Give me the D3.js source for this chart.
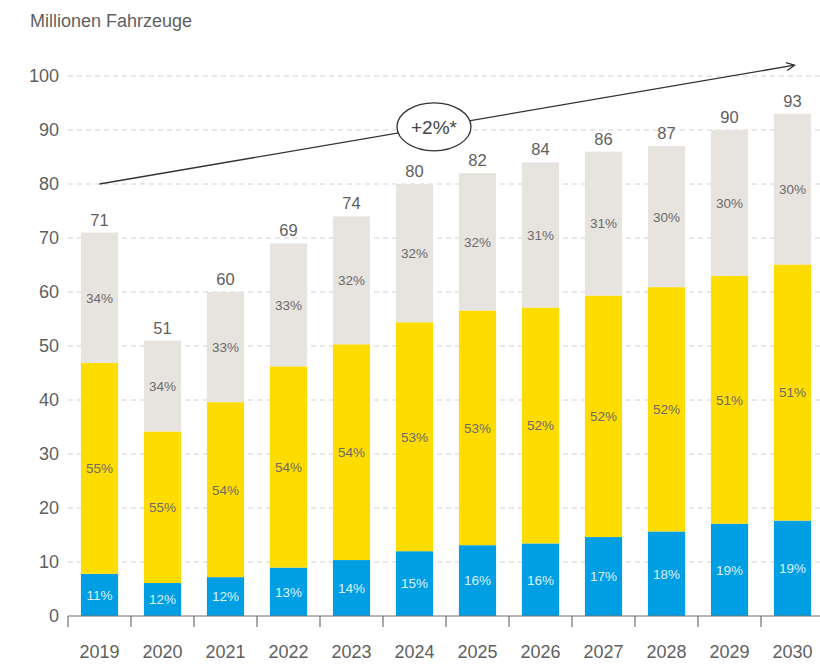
<!DOCTYPE html>
<html>
<head>
<meta charset="utf-8">
<script src="https://cdn.jsdelivr.net/npm/d3@7"></script>
<style>
  html, body { margin: 0; padding: 0; background: #fff; }
  svg { display: block; font-family: "Liberation Sans", Arial, sans-serif; }
</style>
</head>
<body>
<svg id="chart" width="820" height="664"></svg>
<script>
// Vehicle production, millions, with share per segment
const years = ["2019","2020","2021","2022","2023","2024","2025","2026","2027","2028","2029","2030"];
const totals = [71, 51, 60, 69, 74, 80, 82, 84, 86, 87, 90, 93];
const shareBlue = [11, 12, 12, 13, 14, 15, 16, 16, 17, 18, 19, 19];
const shareYellow = [55, 55, 54, 54, 54, 53, 53, 52, 52, 52, 51, 51];
const shareGray = [34, 34, 33, 33, 32, 32, 32, 31, 31, 30, 30, 30];
const yTicks = [0, 10, 20, 30, 40, 50, 60, 70, 80, 90, 100];
const unitLabel = "Millionen Fahrzeuge";
const growthLabel = "+2%*";
const growthFrom = 80;   // trend arrow start value (2019)
const growthTo = 102;    // trend arrow end value (2030)

const colors = { blue: "#009fe3", yellow: "#ffdc00", gray: "#e7e3de" };
const textColor = "#5f5f5f";

const svg = d3.select("#chart");

const x = d3.scaleBand()
  .domain(years)
  .range([68, 824])
  .paddingInner(0.41)
  .paddingOuter(0.205);

const y = d3.scaleLinear().domain([0, 100]).range([616, 76]);

// build stacked rows: blue bottom, yellow middle, gray top
const rows = years.map((yr, i) => {
  const b = totals[i] * shareBlue[i] / 100;
  const yl = totals[i] * shareYellow[i] / 100;
  return {
    year: yr, total: totals[i],
    segs: [
      { key: "blue", y0: 0, y1: b, pct: shareBlue[i], fill: colors.blue, tc: "#dff0fa" },
      { key: "yellow", y0: b, y1: b + yl, pct: shareYellow[i], fill: colors.yellow, tc: "#6b6b6b" },
      { key: "gray", y0: b + yl, y1: totals[i], pct: shareGray[i], fill: colors.gray, tc: "#6b6b6b" }
    ]
  };
});

// unit title
svg.append("text")
  .attr("x", 30).attr("y", 27)
  .attr("font-size", 18)
  .attr("fill", textColor)
  .text(unitLabel);

// dashed gridlines
svg.append("g")
  .selectAll("line")
  .data(yTicks.filter(t => t > 0))
  .join("line")
  .attr("x1", 68).attr("x2", 820)
  .attr("y1", d => y(d)).attr("y2", d => y(d))
  .attr("stroke", "#d2d2d2")
  .attr("stroke-width", 1)
  .attr("stroke-dasharray", "5,4");

// y tick labels
svg.append("g")
  .selectAll("text")
  .data(yTicks)
  .join("text")
  .attr("x", 59)
  .attr("y", d => y(d))
  .attr("dy", "0.36em")
  .attr("text-anchor", "end")
  .attr("font-size", 18)
  .attr("fill", textColor)
  .text(d => d);

// bars
const barG = svg.append("g")
  .selectAll("g")
  .data(rows)
  .join("g");

barG.selectAll("rect")
  .data(d => d.segs.map(s => Object.assign({ year: d.year }, s)))
  .join("rect")
  .attr("x", d => x(d.year))
  .attr("width", x.bandwidth())
  .attr("y", d => y(d.y1))
  .attr("height", d => y(d.y0) - y(d.y1))
  .attr("fill", d => d.fill);

barG.selectAll("text.pct")
  .data(d => d.segs.map(s => Object.assign({ year: d.year }, s)))
  .join("text")
  .attr("class", "pct")
  .attr("x", d => x(d.year) + x.bandwidth() / 2)
  .attr("y", d => (y(d.y0) + y(d.y1)) / 2)
  .attr("dy", "0.36em")
  .attr("text-anchor", "middle")
  .attr("font-size", 13.5)
  .attr("fill", d => d.tc)
  .text(d => d.pct + "%");

// totals above bars
barG.append("text")
  .attr("x", d => x(d.year) + x.bandwidth() / 2)
  .attr("y", d => y(d.total) - 7)
  .attr("text-anchor", "middle")
  .attr("font-size", 16.5)
  .attr("fill", textColor)
  .text(d => d.total);

// x axis baseline with boundary ticks
const step = x.step();
const edge = yr => x(yr) - step * x.paddingInner() / 2;
const axisG = svg.append("g");
axisG.append("line")
  .attr("x1", 68).attr("x2", 820)
  .attr("y1", y(0)).attr("y2", y(0))
  .attr("stroke", "#707070").attr("stroke-width", 1.2);
axisG.selectAll("line.tick")
  .data(years)
  .join("line")
  .attr("class", "tick")
  .attr("x1", d => edge(d)).attr("x2", d => edge(d))
  .attr("y1", y(0)).attr("y2", y(0) + 11)
  .attr("stroke", "#707070").attr("stroke-width", 1.2);
axisG.selectAll("text")
  .data(years)
  .join("text")
  .attr("x", d => x(d) + x.bandwidth() / 2)
  .attr("y", 658)
  .attr("text-anchor", "middle")
  .attr("font-size", 18)
  .attr("fill", textColor)
  .text(d => d);

// growth trend arrow with callout
const ax1 = x(years[0]) + x.bandwidth() / 2, ay1 = y(growthFrom);
const ax2 = x(years[years.length - 1]) + x.bandwidth() / 2 + 2, ay2 = y(growthTo);
const defs = svg.append("defs");
defs.append("marker")
  .attr("id", "arrowHead")
  .attr("viewBox", "0 0 10 10")
  .attr("refX", 9).attr("refY", 5)
  .attr("markerWidth", 10).attr("markerHeight", 10)
  .attr("markerUnits", "userSpaceOnUse")
  .attr("orient", "auto")
  .append("path")
  .attr("d", "M1,1 L9,5 L1,9")
  .attr("fill", "none")
  .attr("stroke", "#333")
  .attr("stroke-width", 1.3);

svg.append("line")
  .attr("x1", ax1).attr("y1", ay1)
  .attr("x2", ax2).attr("y2", ay2)
  .attr("stroke", "#333")
  .attr("stroke-width", 1.3)
  .attr("marker-end", "url(#arrowHead)");

const cx = edge("2025") - 12;
const t = (cx - ax1) / (ax2 - ax1);
const cy = ay1 + t * (ay2 - ay1);
svg.append("ellipse")
  .attr("cx", cx).attr("cy", cy)
  .attr("rx", 37).attr("ry", 24)
  .attr("fill", "#fff")
  .attr("stroke", "#333")
  .attr("stroke-width", 1.3);
svg.append("text")
  .attr("x", cx).attr("y", cy)
  .attr("dy", "0.36em")
  .attr("text-anchor", "middle")
  .attr("font-size", 19)
  .attr("fill", "#444")
  .text(growthLabel);
</script>
</body>
</html>
